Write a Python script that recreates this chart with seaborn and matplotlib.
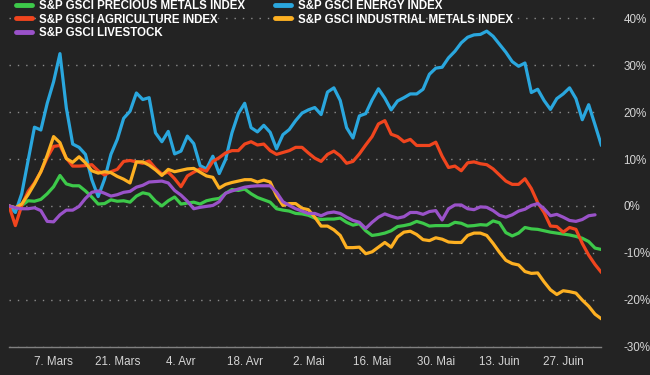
import numpy as np
import pandas as pd
import matplotlib
matplotlib.use("Agg")
import matplotlib.pyplot as plt
import seaborn as sns
from matplotlib.lines import Line2D

# trading days shown on the chart
dates = pd.bdate_range("2022-02-24", "2022-07-05")

precious = [0.0, -0.4, 0.1, 1.1, 1.0, 1.4, 2.6, 4.1, 6.5, 4.7,
            4.3, 4.3, 3.2, 1.9, 0.4, 0.5, 1.3, 1.0, 1.1, 0.8,
            2.1, 2.8, 2.5, 1.0, 0.0, 1.1, 1.9, 0.4, 0.6, 0.8,
            0.4, 1.1, 1.4, 1.6, 2.7, 3.5, 3.3, 3.6, 2.6, 1.8,
            1.3, 0.8, -0.6, -0.9, -1.1, -1.6, -1.7, -2.0, -2.6, -2.9,
            -2.8, -2.8, -2.6, -3.5, -4.1, -3.8, -5.3, -6.3, -6.1, -5.8,
            -5.3, -4.4, -4.2, -3.9, -3.3, -3.7, -4.3, -4.2, -4.2, -4.2,
            -3.5, -3.7, -4.3, -4.2, -4.0, -4.1, -3.2, -3.6, -5.7, -6.4,
            -5.8, -4.6, -4.9, -5.0, -5.3, -5.6, -5.8, -6.0, -6.2, -6.5,
            -6.9, -7.6, -9.0, -9.3]

energy = [0.0, -1.4, 2.6, 9.7, 16.8, 16.2, 21.9, 26.5, 32.5, 20.9,
          13.2, 12.5, 11.0, 5.6, 2.0, 5.7, 11.0, 14.2, 18.7, 20.2,
          24.1, 22.7, 23.1, 15.6, 13.7, 15.9, 11.1, 11.7, 14.9, 13.3,
          8.6, 7.9, 10.6, 6.9, 9.9, 15.6, 19.7, 21.9, 16.7, 15.8,
          17.2, 15.7, 12.2, 15.2, 16.3, 18.2, 19.8, 20.5, 21.0, 19.5,
          24.3, 25.2, 22.5, 16.7, 14.5, 19.2, 19.7, 22.6, 25.0, 23.0,
          20.5, 22.4, 23.1, 23.9, 23.9, 24.9, 28.1, 29.4, 29.6, 31.6,
          33.0, 34.8, 36.0, 36.5, 36.6, 37.3, 36.2, 34.5, 32.8, 30.8,
          29.8, 30.5, 24.2, 24.9, 22.5, 20.6, 22.9, 23.9, 25.2, 22.9,
          18.4, 21.6, 17.3, 12.9]

agriculture = [0.0, -4.2, 0.1, 3.1, 4.9, 7.3, 10.3, 12.7, 12.9, 10.2,
               8.5, 8.5, 8.6, 8.8, 7.5, 6.6, 7.3, 7.8, 9.5, 9.7,
               9.4, 9.1, 9.6, 8.0, 6.8, 7.2, 5.8, 4.1, 6.4, 7.2,
               7.9, 7.4, 9.5, 10.3, 11.3, 11.8, 11.8, 13.2, 13.7, 13.0,
               13.2, 11.8, 11.0, 11.4, 11.8, 12.5, 12.5, 11.3, 10.2, 9.5,
               11.0, 11.7, 10.7, 9.1, 9.5, 11.1, 13.0, 14.8, 17.5, 18.2,
               15.3, 14.8, 13.7, 14.2, 12.9, 12.9, 12.9, 13.6, 10.6, 8.2,
               8.5, 7.5, 9.2, 9.4, 9.0, 8.8, 7.9, 6.6, 5.3, 4.6,
               4.6, 5.8, 3.7, 0.7, -1.4, -4.3, -4.4, -5.6, -4.6, -5.0,
               -8.0, -10.5, -12.5, -14.2]

industrial = [0.0, -0.4, 0.4, 2.4, 4.7, 7.3, 10.8, 14.8, 13.5, 10.1,
              9.3, 10.5, 9.2, 7.5, 7.0, 7.3, 7.1, 6.3, 5.7, 4.9,
              9.4, 9.4, 8.7, 7.7, 6.5, 7.8, 7.3, 7.6, 7.9, 8.0,
              7.2, 6.4, 6.1, 3.8, 4.6, 5.0, 5.3, 5.6, 5.6, 5.1,
              5.5, 5.1, 2.2, 0.1, 0.5, 0.5, -0.5, -0.8, -2.4, -4.3,
              -4.3, -5.1, -6.3, -8.9, -8.9, -8.8, -10.2, -9.8, -8.8, -7.8,
              -8.8, -6.6, -5.6, -5.4, -6.1, -7.2, -7.4, -6.8, -7.1, -7.7,
              -7.8, -7.8, -6.3, -5.8, -5.8, -6.3, -8.0, -9.9, -11.6, -12.3,
              -12.6, -14.0, -14.4, -14.3, -16.2, -17.9, -18.9, -18.1, -18.3, -18.6,
              -20.1, -21.4, -23.1, -24.1]

livestock = [0.0, -0.4, -0.6, -0.6, -0.4, -1.0, -3.3, -3.4, -1.9, -0.9,
             -0.9, -0.1, 1.6, 2.9, 3.2, 2.7, 2.1, 2.4, 2.9, 3.1,
             4.0, 4.4, 5.1, 5.2, 5.3, 4.9, 3.3, 2.3, 1.0, -0.6,
             -0.3, -0.1, 0.1, 0.9, 2.7, 3.2, 3.6, 4.0, 4.2, 4.3,
             4.3, 4.3, 2.9, 0.9, 0.1, -0.6, -1.1, -1.6, -1.6, -2.1,
             -1.5, -1.3, -1.6, -2.4, -3.1, -3.5, -4.8, -3.5, -2.4, -1.7,
             -2.2, -2.6, -2.3, -1.4, -1.4, -1.8, -1.2, -1.0, -3.0, -0.6,
             0.2, 0.2, -0.6, -0.8, -0.2, -0.3, -1.0, -2.0, -2.4, -1.9,
             -1.1, -0.7, 0.1, 0.5, -0.6, -2.1, -1.8, -2.4, -3.1, -3.3,
             -2.9, -2.1, -1.9, np.nan]

series = {
    "S&P GSCI PRECIOUS METALS INDEX": precious,
    "S&P GSCI ENERGY INDEX": energy,
    "S&P GSCI AGRICULTURE INDEX": agriculture,
    "S&P GSCI INDUSTRIAL METALS INDEX": industrial,
    "S&P GSCI LIVESTOCK": livestock,
}
colors = ["#3dc94a", "#2aa7de", "#f0451e", "#fdb022", "#9a52c9"]

tick_dates = ["2022-03-07", "2022-03-21", "2022-04-04", "2022-04-18", "2022-05-02",
              "2022-05-16", "2022-05-30", "2022-06-13", "2022-06-27"]
tick_labels = ["7. Mars", "21. Mars", "4. Avr", "18. Avr", "2. Mai",
               "16. Mai", "30. Mai", "13. Juin", "27. Juin"]
y_ticks = [-30, -20, -10, 0, 10, 20, 30, 40]
y_labels = ["-30%", "-20%", "-10%", "0%", "10%", "20%", "30%", "40%"]

bg = "#232323"
fg = "#d4d4d4"

df = pd.DataFrame(series)
df["idx"] = np.arange(len(dates))
long = df.melt(id_vars="idx", var_name="series", value_name="value").dropna()

sns.set_style("dark")
plt.rcParams["font.family"] = ["Liberation Sans", "DejaVu Sans"]

fig = plt.figure(figsize=(6.5, 3.75), dpi=100, facecolor=bg)
ax = fig.add_axes([9 / 650, 28.5 / 375, 592.4 / 650, 332.7 / 375])
ax.set_facecolor(bg)

names = list(series.keys())
sns.lineplot(data=long, x="idx", y="value", hue="series", hue_order=names,
             palette=colors, linewidth=2.3, legend=False, ax=ax,
             solid_capstyle="round", solid_joinstyle="round")

ax.set_xlim(0, len(dates) - 1)
ax.set_ylim(-30, 41)

pos = [dates.get_loc(pd.Timestamp(d)) for d in tick_dates]
ax.set_xticks(pos)
ax.set_xticklabels(tick_labels)
ax.set_yticks(y_ticks)
ax.set_yticklabels(y_labels)
ax.yaxis.tick_right()

ax.grid(False)
ax.grid(axis="y", color="#8c8c8c", linestyle=(0, (1, 5)), linewidth=1.0, zorder=0)

for s in ["top", "left", "right"]:
    ax.spines[s].set_visible(False)
ax.spines["bottom"].set_color("#808080")
ax.spines["bottom"].set_linewidth(1.0)

ax.tick_params(axis="x", length=4, width=1, color="#808080", pad=3,
               labelcolor=fg, labelsize=8.4)
ax.tick_params(axis="y", length=0, pad=16, labelcolor=fg, labelsize=8.4)
ax.set_xlabel("")
ax.set_ylabel("")

# legend: two columns, filled column-wise
order = [0, 2, 4, 1, 3]
handles = [Line2D([0], [0], color=colors[i], lw=3.5) for i in order]
labels = [names[i] for i in order]
leg = ax.legend(handles, labels, ncol=2, loc="upper left",
                bbox_to_anchor=(16 / 650, 0.999), bbox_transform=fig.transFigure,
                frameon=False, borderpad=0, borderaxespad=0,
                handlelength=1.4, handletextpad=0.6, columnspacing=2.6,
                labelspacing=0.1,
                prop={"family": "Liberation Sans", "weight": "bold", "size": 8.3})
for t in leg.get_texts():
    t.set_color("white")

fig.savefig("out.png", dpi=100, facecolor=bg)
